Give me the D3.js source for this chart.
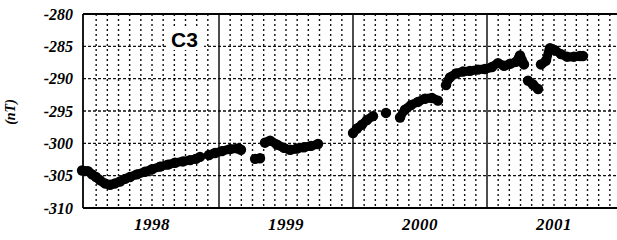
<!DOCTYPE html>
<html lang="en">
<head>
<meta charset="UTF-8">
<title>C3 field</title>
<script src="https://cdn.jsdelivr.net/npm/d3@7"></script>
<style>
  body { margin: 0; background: #fff; }
  svg { display: block; }
  .serif { font-family: "Liberation Serif", "Times New Roman", serif; font-style: italic; font-weight: bold; }
</style>
</head>
<body>
<div id="chart"></div>
<script>
// decimal years and field (nT), NaN = data gap
const years = [1997.978, 1998.022, 1998.052, 1998.082, 1998.112, 1998.149, 1998.187, 1998.224, 1998.261, 1998.299,
  1998.336, 1998.388, 1998.448, 1998.500, 1998.560, 1998.619, 1998.672, 1998.731, 1998.784, 1998.828, 1998.858, NaN,
  1998.925, 1998.970, 1999.022, 1999.082, 1999.142, 1999.164, NaN,
  1999.269, 1999.306, NaN,
  1999.343, 1999.381, 1999.433, 1999.485, 1999.530, 1999.582, 1999.634, 1999.687, 1999.739, NaN,
  2000.000, 2000.030, 2000.067, 2000.104, 2000.149, NaN,
  2000.246, NaN,
  2000.351, 2000.388, 2000.433, 2000.485, 2000.537, 2000.590, 2000.634, NaN,
  2000.694, 2000.724, 2000.769, 2000.821, 2000.873, 2000.933, 2000.985, 2001.037, 2001.082, 2001.127, 2001.172,
  2001.216, 2001.246, 2001.276, NaN,
  2001.306, 2001.343, 2001.381, NaN,
  2001.403, 2001.440, 2001.470, 2001.507, 2001.552, 2001.597, 2001.649, 2001.694, 2001.716];
const field = [-304.2, -304.3, -304.8, -305.2, -305.7, -306.2, -306.4, -306.2, -305.9, -305.5,
  -305.2, -304.8, -304.4, -304.0, -303.6, -303.3, -303.0, -302.8, -302.6, -302.4, -302.1, NaN,
  -301.8, -301.5, -301.2, -300.9, -300.8, -301.0, NaN,
  -302.4, -302.3, NaN,
  -299.9, -299.6, -300.2, -300.7, -301.0, -300.8, -300.6, -300.4, -300.1, NaN,
  -298.4, -297.7, -297.1, -296.4, -295.8, NaN,
  -295.3, NaN,
  -296.0, -294.8, -294.1, -293.6, -293.1, -293.0, -293.4, NaN,
  -291.0, -289.8, -289.2, -288.9, -288.8, -288.6, -288.5, -288.2, -287.6, -288.0, -287.7,
  -287.4, -286.4, -287.8, NaN,
  -290.3, -290.9, -291.6, NaN,
  -287.8, -287.2, -285.3, -285.6, -286.2, -286.6, -286.6, -286.5, -286.5];

const yTicks = [-280, -285, -290, -295, -300, -305, -310];
const yearLabels = ["1998", "1999", "2000", "2001"];
const yearLines = [1999, 2000, 2001];
const label = "C3";

const W = 617, H = 240;
const plotL = 83, plotR = 618, plotT = 14, plotB = 208;

const x = d3.scaleLinear().domain([1998, 2002]).range([85, 621]);
const y = d3.scaleLinear().domain([-310, -280]).range([plotB, plotT]);

const svg = d3.select("#chart").append("svg")
  .attr("width", W).attr("height", H);

// monthly dotted grid
const months = d3.range(1998, 2002, 1 / 12).filter(m => Math.abs(m - Math.round(m)) > 0.01);
svg.append("g").selectAll("line")
  .data(months.filter(m => x(m) > plotL + 2 && x(m) < plotR))
  .enter().append("line")
  .attr("x1", d => x(d)).attr("x2", d => x(d))
  .attr("y1", plotT).attr("y2", plotB)
  .attr("stroke", "#111").attr("stroke-width", 1.4)
  .attr("stroke-dasharray", "2,3");

// horizontal dashed grid
svg.append("g").selectAll("line")
  .data(yTicks.slice(1, -1))
  .enter().append("line")
  .attr("x1", plotL).attr("x2", plotR)
  .attr("y1", d => y(d)).attr("y2", d => y(d))
  .attr("stroke", "#111").attr("stroke-width", 1.4)
  .attr("stroke-dasharray", "3,2");

// solid year boundaries
svg.append("g").selectAll("line")
  .data(yearLines)
  .enter().append("line")
  .attr("x1", d => x(d)).attr("x2", d => x(d))
  .attr("y1", plotT).attr("y2", plotB)
  .attr("stroke", "#000").attr("stroke-width", 1.4);

// frame
svg.append("line").attr("x1", plotL).attr("x2", plotR).attr("y1", plotT).attr("y2", plotT)
  .attr("stroke", "#000").attr("stroke-width", 2.2);
svg.append("line").attr("x1", plotL).attr("x2", plotR).attr("y1", plotB).attr("y2", plotB)
  .attr("stroke", "#000").attr("stroke-width", 2.2);
svg.append("line").attr("x1", plotL).attr("x2", plotL).attr("y1", plotT).attr("y2", plotB)
  .attr("stroke", "#000").attr("stroke-width", 1.8);

// C3 label on white patch
svg.append("rect").attr("x", 168).attr("y", 29).attr("width", 36).attr("height", 21).attr("fill", "#fff");
svg.append("text").attr("x", 171).attr("y", 47)
  .style("font-family", "'Liberation Sans', Arial, sans-serif")
  .attr("font-weight", "bold").attr("font-size", 21)
  .text(label);

// data blobs
const pts = years.map((t, i) => [t, field[i]]);
const line = d3.line()
  .defined(d => !isNaN(d[0]) && !isNaN(d[1]))
  .x(d => x(d[0])).y(d => y(d[1]))
  .curve(d3.curveCatmullRom);
svg.append("path").attr("d", line(pts))
  .attr("fill", "none").attr("stroke", "#000")
  .attr("stroke-width", 9).attr("stroke-linecap", "round").attr("stroke-linejoin", "round");
svg.append("g").selectAll("circle")
  .data(pts.filter(d => !isNaN(d[0])))
  .enter().append("circle")
  .attr("cx", d => x(d[0])).attr("cy", d => y(d[1]))
  .attr("r", 5.2).attr("fill", "#000");

// y tick labels
svg.append("g").selectAll("text")
  .data(yTicks)
  .enter().append("text")
  .attr("class", "serif")
  .attr("x", 73).attr("y", d => y(d))
  .attr("dy", "0.35em")
  .attr("text-anchor", "end")
  .style("font-size", "16px")
  .text(d => d);

// year labels
svg.append("g").selectAll("text")
  .data(yearLabels)
  .enter().append("text")
  .attr("class", "serif")
  .attr("x", d => x(+d + 0.5)).attr("y", 230)
  .attr("text-anchor", "middle")
  .style("font-size", "17px")
  .attr("letter-spacing", 0.5)
  .text(d => d);

// axis title
svg.append("text")
  .attr("class", "serif")
  .attr("transform", "translate(15,112) rotate(-90)")
  .attr("text-anchor", "middle")
  .style("font-size", "14px")
  .text("(nT)");
</script>
</body>
</html>
